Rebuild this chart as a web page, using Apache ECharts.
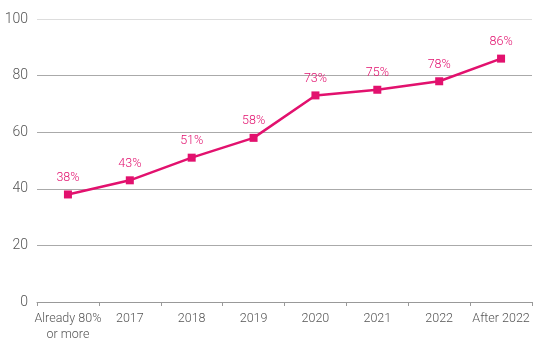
<!DOCTYPE html>
<html>
<head>
<meta charset="utf-8">
<script src="https://cdn.jsdelivr.net/npm/echarts@6/dist/echarts.min.js"></script>
<style>
  html, body { margin: 0; padding: 0; background: #fff; }
  #chart { width: 553px; height: 352px; }
</style>
</head>
<body>
<div id="chart"></div>
<script>
// categories along x, share values in percent
const categories = ["Already 80%\nor more", "2017", "2018", "2019", "2020", "2021", "2022", "After 2022"];
const shares = [38, 43, 51, 58, 73, 75, 78, 86];
const yTicks = [0, 20, 40, 60, 80, 100];

const PINK = "#e2116e";
const chart = echarts.init(document.getElementById("chart"));

chart.setOption({
  animation: false,
  textStyle: { fontFamily: "Roboto", fontWeight: 300 },
  grid: { left: 37, right: 21, top: 19, bottom: 50 },
  xAxis: {
    type: "category",
    data: categories,
    boundaryGap: true,
    axisLine: { lineStyle: { color: "#999", width: 1 } },
    axisTick: { show: true, length: 4, lineStyle: { color: "#999" } },
    axisLabel: { color: "#555", fontSize: 12.5, fontWeight: 300, lineHeight: 16, margin: 9, interval: 0 }
  },
  yAxis: {
    type: "value",
    min: yTicks[0],
    max: yTicks[yTicks.length - 1],
    interval: 20,
    axisLine: { show: false },
    axisTick: { show: false },
    axisLabel: { color: "#555", fontSize: 14, fontWeight: 300, margin: 9 },
    splitLine: { lineStyle: { color: ["#999", "#aaa", "#aaa", "#aaa", "#aaa", "#ddd"], width: 1 } }
  },
  series: [{
    type: "line",
    data: shares,
    symbol: "rect",
    symbolSize: 8,
    lineStyle: { color: PINK, width: 2.5 },
    itemStyle: { color: PINK },
    label: {
      show: true,
      position: "top",
      distance: 6,
      color: PINK,
      fontSize: 12.5,
      fontWeight: 300,
      formatter: p => p.value + "%"
    }
  }]
});
</script>
</body>
</html>
